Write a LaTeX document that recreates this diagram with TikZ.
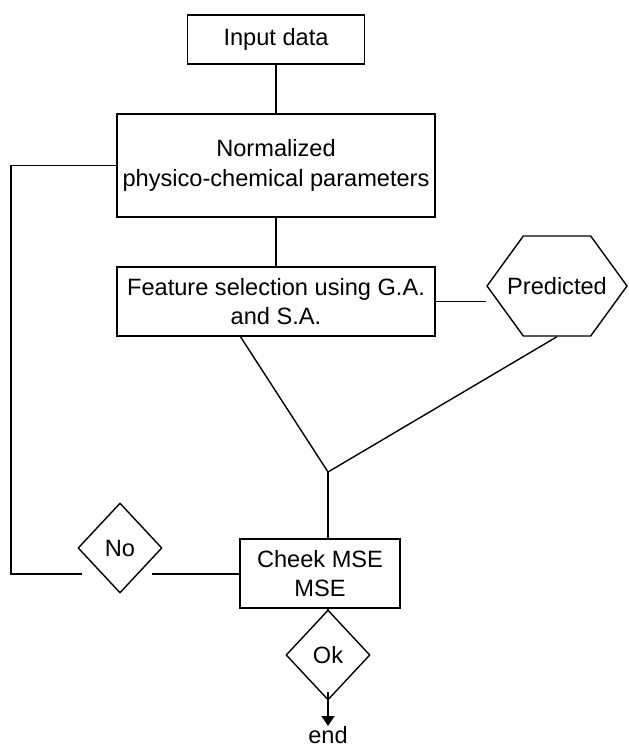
\documentclass[tikz,border=0pt]{standalone}
\usepackage{fontspec}
\setmainfont{Liberation Sans}
\usetikzlibrary{arrows.meta,positioning,calc,shapes.geometric,shapes.symbols}

\begin{document}
\begin{tikzpicture}[>={Stealth[length=5pt,width=6.5pt,inset=0pt]},x=0.5pt,y=-0.5pt,line width=0.7pt,
  every node/.style={font=\fontsize{11.8}{14.8}\selectfont},
  procbox/.style={draw,rectangle,align=center,inner sep=2pt},
  decision/.style={draw,diamond,inner sep=0pt,minimum width=42pt,minimum height=45pt},
  outhex/.style={draw,signal,signal to=west and east,signal pointer angle=108,inner sep=0pt,minimum width=70pt,minimum height=50pt}]
\useasboundingbox (0,0) rectangle (628,747);
\node[procbox,minimum width=88.5pt,minimum height=24.5pt] (input) at (276,39.5) {Input data};
\node[procbox,minimum width=159pt,minimum height=51.5pt] (norm) at (276,165.5) {Normalized\\physico-chemical parameters};
\node[procbox,minimum width=159pt,minimum height=34.5pt] (feat) at (276,301.5) {Feature selection using G.A.\\and S.A.};
\node[outhex,label=center:Predicted] (pred) at (557,286) {};
\node[procbox,minimum width=80pt,minimum height=34.5pt] (check) at (320,573.5) {Cheek MSE\\MSE};
\node[decision] (no) at (120,548) {No};
\node[decision] (ok) at (328,655) {Ok};
\node[inner sep=0pt,anchor=north] (end) at (328,726) {end};
\coordinate (fbot) at (240,336);
\coordinate (join) at (328,472);
\coordinate (loop) at (11,574);
\coordinate (nol) at (82,574);
\coordinate (nor) at (152,574);
\coordinate (okin) at (328,692);
% main line
\draw (input) -- (norm);
\draw (norm) -- (feat);
\draw (feat.east) -- (feat.east -| pred.west);
\draw (fbot) -- (join);
\draw (pred.south) -- (join);
\draw (join) -- (join |- check.north);
\draw (ok.north |- check.south) -- (ok.north);
\draw[->] (okin) -- (end.north);
% back to the top
\draw (norm.west) -| (loop) -- (nol);
\draw (check.west |- nor) -- (nor);
\end{tikzpicture}
\end{document}
